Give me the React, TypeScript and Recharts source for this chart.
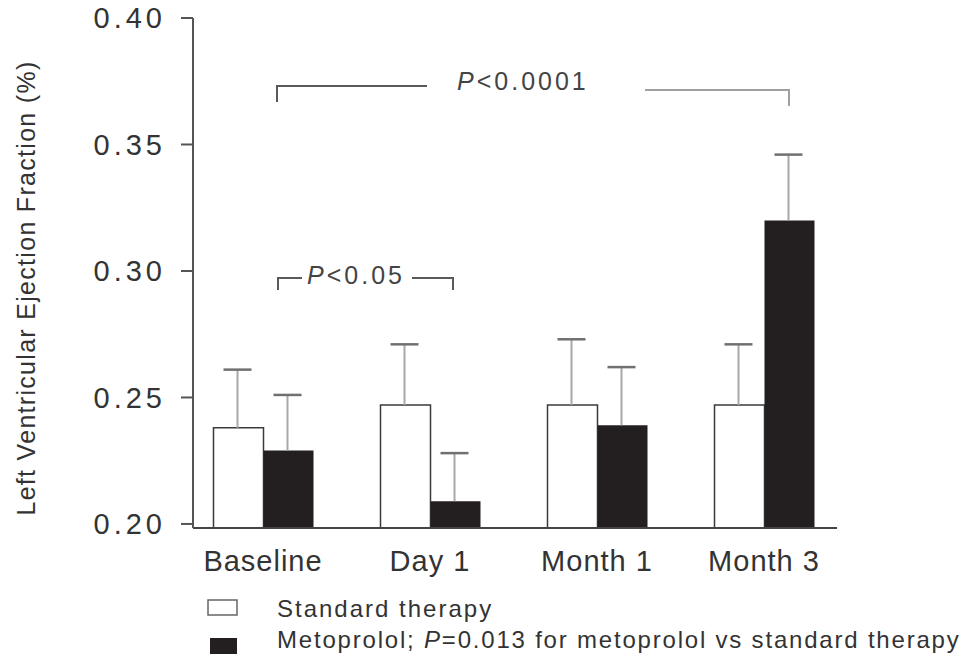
import { BarChart, Bar, XAxis, YAxis, LabelList } from "recharts";

const CATEGORIES = ["Baseline", "Day 1", "Month 1", "Month 3"];
const STANDARD = [0.238, 0.247, 0.247, 0.247];
const STANDARD_SD = [0.023, 0.024, 0.026, 0.024];
const METOPROLOL = [0.229, 0.209, 0.239, 0.32];
const METOPROLOL_SD = [0.022, 0.019, 0.023, 0.026];
const Y_TICKS = [0.2, 0.25, 0.3, 0.35, 0.4];
const Y_DOMAIN: [number, number] = [0.1984, 0.4];

const data = CATEGORIES.map((name, i) => ({
  name,
  standard: STANDARD[i],
  metoprolol: METOPROLOL[i],
}));

const FONT = '"Liberation Sans", Arial, Helvetica, sans-serif';
const TEXT = "#333";

// upward-only SD whisker, sized off the bar's own pixel height
function whisker(sds: number[]) {
  return (props: any) => {
    const x = Number(props.x);
    const y = Number(props.y);
    const w = Number(props.width);
    const h = Number(props.height);
    const perUnit = h / (Number(props.value) - Y_DOMAIN[0]);
    const top = y - sds[props.index] * perUnit;
    const cx = x + w / 2 - 1;
    return (
      <g>
        <line x1={cx} x2={cx} y1={y} y2={top} stroke="#a8a8a8" strokeWidth={2} />
        <line x1={cx - 14} x2={cx + 14} y1={top} y2={top} stroke="#707070" strokeWidth={2.5} />
      </g>
    );
  };
}

function YLabel({ viewBox }: any) {
  const cx = viewBox.x + 18;
  const cy = viewBox.y + viewBox.height / 2 + 15;
  return (
    <text
      x={cx}
      y={cy}
      transform={`rotate(-90, ${cx}, ${cy})`}
      textAnchor="middle"
      dominantBaseline="central"
      fontSize={25}
      letterSpacing={1.3}
      fill={TEXT}
    >
      Left Ventricular Ejection Fraction (%)
    </text>
  );
}

export default function App() {
  return (
    <div
      style={{
        position: "absolute",
        left: 0,
        top: 0,
        width: 973,
        height: 654,
        overflow: "hidden",
        fontFamily: FONT,
        background: "#fff",
      }}
    >
      <BarChart
        width={973}
        height={654}
        data={data}
        margin={{ top: 18, right: 136, bottom: 76, left: 8 }}
        barSize={50}
        barGap={0}
      >
        <XAxis
          dataKey="name"
          height={50}
          padding={{ left: -13.5, right: -10.5 }}
          axisLine={{ stroke: "#444", strokeWidth: 2 }}
          tickLine={false}
          tickSize={8}
          tickMargin={14}
          tick={{ fontSize: 29, letterSpacing: 1, fill: TEXT }}
          interval={0}
        />
        <YAxis
          type="number"
          domain={Y_DOMAIN}
          ticks={Y_TICKS}
          interval={0}
          width={185}
          tickSize={12}
          tickMargin={15}
          axisLine={{ stroke: "#555", strokeWidth: 2 }}
          tickLine={{ stroke: "#555", strokeWidth: 2 }}
          tick={{ fontSize: 29, letterSpacing: 4, fill: TEXT }}
          tickFormatter={(v: number) => v.toFixed(2)}
          label={<YLabel />}
        />
        <Bar
          dataKey="standard"
          fill="#ffffff"
          stroke="#3a3a3a"
          strokeWidth={1.5}
          isAnimationActive={false}
        >
          <LabelList dataKey="standard" content={whisker(STANDARD_SD)} />
        </Bar>
        <Bar dataKey="metoprolol" fill="#231f20" isAnimationActive={false}>
          <LabelList dataKey="metoprolol" content={whisker(METOPROLOL_SD)} />
        </Bar>
      </BarChart>

      <svg
        width={973}
        height={654}
        style={{ position: "absolute", left: 0, top: 0, pointerEvents: "none" }}
        fontFamily={FONT}
      >
        {/* significance brackets */}
        <path d="M277,102 L277,86 L427,86" fill="none" stroke="#5a5a5a" strokeWidth={2} />
        <text x={457} y={90} fontSize={25} letterSpacing={3} fill="#444">
          <tspan fontStyle="italic">P</tspan>&lt;0.0001
        </text>
        <path d="M645,90 L789,90 L789,106" fill="none" stroke="#a0a0a0" strokeWidth={2} />

        <path d="M278,290 L278,278 L302,278" fill="none" stroke="#5a5a5a" strokeWidth={2} />
        <text x={307} y={284} fontSize={25} letterSpacing={3} fill="#444">
          <tspan fontStyle="italic">P</tspan>&lt;0.05
        </text>
        <path d="M412,278 L453,278 L453,290" fill="none" stroke="#5a5a5a" strokeWidth={2} />

        {/* legend */}
        <rect x={208} y={600} width={29} height={15} fill="#fff" stroke="#666" strokeWidth={1.5} />
        <text x={277} y={617} fontSize={24} letterSpacing={2} fill={TEXT}>
          Standard therapy
        </text>
        <rect x={210} y={638} width={27} height={18} fill="#231f20" />
        <text x={277} y={648} fontSize={24} letterSpacing={1.8} fill={TEXT}>
          Metoprolol; <tspan fontStyle="italic">P</tspan>=0.013 for metoprolol vs standard therapy
        </text>
      </svg>
    </div>
  );
}
